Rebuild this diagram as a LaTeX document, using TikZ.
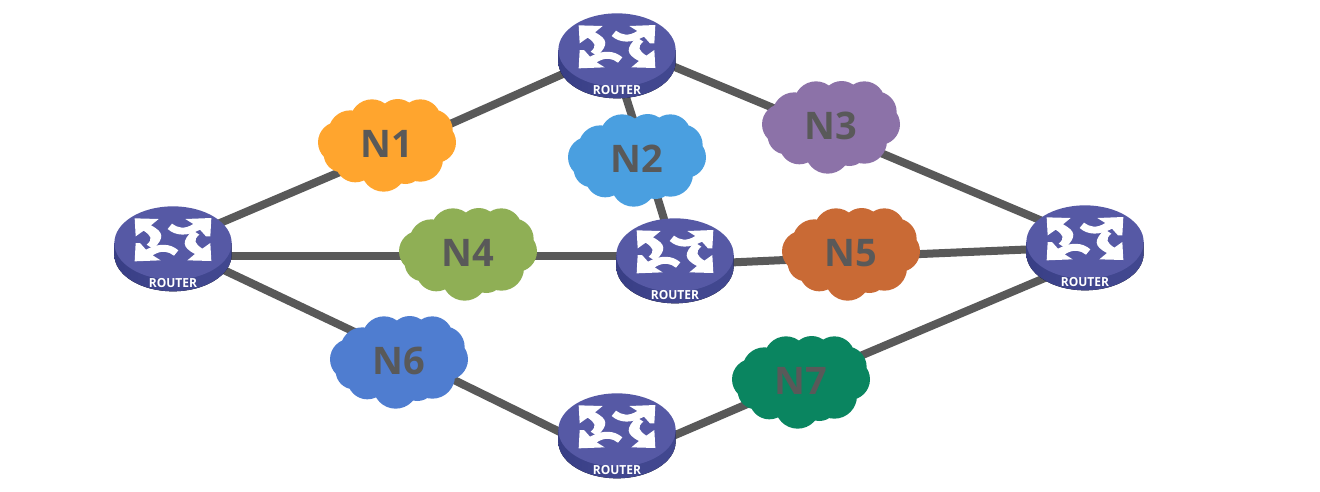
\documentclass[tikz,border=0pt]{standalone}
\usepackage{fontspec}
\setmainfont{Open Sans}
\usetikzlibrary{shapes.geometric,backgrounds}
\definecolor{linkgrey}{HTML}{595959}
\definecolor{routertop}{HTML}{5659A5}
\definecolor{routerside}{HTML}{41478F}
\definecolor{routersidedark}{HTML}{383E85}
\definecolor{cOne}{HTML}{FFA52E}
\definecolor{cTwo}{HTML}{4A9FE0}
\definecolor{cThree}{HTML}{8C72A8}
\definecolor{cFour}{HTML}{8FAF55}
\definecolor{cFive}{HTML}{C96A35}
\definecolor{cSix}{HTML}{4F7DD0}
\definecolor{cSeven}{HTML}{0A8560}
\tikzset{
  link/.style={draw=linkgrey,line width=8pt},
  routeranchor/.style={ellipse,inner sep=0pt,minimum width=117pt,minimum height=74pt},
  cloudlabel/.style={text=linkgrey,font=\fontsize{38}{38}\selectfont\bfseries,inner sep=0pt},
  routerlabel/.style={text=white,font=\fontsize{12.5}{13}\selectfont\bfseries,inner sep=0pt,xscale=.96}
}
% router: #1 name, #2 position
\newcommand{\routerat}[2]{%
  \node[routeranchor] (#1) at (#2) {};
  \begin{scope}[shift={(#1.center)},x=.3333pt,y=-.3333pt]
    \fill[left color=routersidedark,right color=routerside,middle color=routerside]
      (-176,0) -- (-176,35) arc[start angle=180,end angle=0,x radius=176,y radius=110] -- (176,0) -- cycle;
    \fill[routertop] (0,0) ellipse[x radius=176,y radius=110];
    \begin{scope}[shift={(-231,-150)}]
      \foreach \r in {0,180}{
      \begin{scope}[rotate around={\r:(231,140)}]
        \fill[white] (116,76) -- (188,78) -- (165,97) .. controls (205,118) and (205,135) .. (172,168)
           -- (152,155) .. controls (172,138) and (165,128) .. (143,113) -- (119,130) -- cycle;
        \fill[white] (346,75) -- (268,78) -- (292,93) .. controls (265,110) and (245,105) .. (228,92)
           -- (215,108) .. controls (240,130) and (275,130) .. (312,110) -- (330,130) -- (343,130) -- cycle;
      \end{scope}}
    \end{scope}
  \end{scope}
  \node[routerlabel] (#1t) at ([yshift=-40pt]#1.center) {ROUTER};
}
% cloud: #1 name, #2 position, #3 colour, #4 text
\newcommand{\cloudat}[4]{%
  \begin{scope}[shift={(#2)},x=.3333pt,y=-.3333pt]
    \begin{scope}[shift={(-230,-160)}]
    \fill[#3] (230,165) ellipse[x radius=175,y radius=112]
      (185,92) circle[radius=66] (262,85) circle[radius=60] (330,88) circle[radius=62]
      (365,118) circle[radius=62] (375,155) circle[radius=62] (330,205) circle[radius=68]
      (285,225) circle[radius=55] (220,235) circle[radius=68] (135,215) circle[radius=60]
      (95,190) circle[radius=55] (85,155) circle[radius=62] (120,125) circle[radius=66];
    \end{scope}
  \end{scope}
  \node[cloudlabel] (#1) at (#2) {#4};
}
\begin{document}
\begin{tikzpicture}[x=1pt,y=-1pt]
\path[use as bounding box] (0,0) rectangle (1320,491);
\routerat{ra}{173,243}
\routerat{rb}{617,50}
\routerat{rc}{675,255}
\routerat{rd}{1085,242}
\routerat{re}{617,430}
\cloudat{n1}{387,144}{cOne}{N1}
\cloudat{n2}{637,159}{cTwo}{N2}
\cloudat{n3}{831,126}{cThree}{N3}
\cloudat{n4}{468,253}{cFour}{N4}
\cloudat{n5}{851,253}{cFive}{N5}
\cloudat{n6}{399,361}{cSix}{N6}
\cloudat{n7}{801,381}{cSeven}{N7}
\begin{scope}[on background layer]
  \fill[white] (0,0) rectangle (1320,491);
  \draw[link] (ra.center) -- ([yshift=-8pt]n1.center) -- (rb.center);
  \draw[link] ([yshift=7pt]rb.center) -- ([yshift=-6pt]n3.center) -- ([yshift=3pt]rd.center);
  \draw[link] ([xshift=-6pt]rb.center) -- ([xshift=8.7pt]n2.center) -- (rc.center);
  \draw[link] ([yshift=-13pt]ra.center) -- ([yshift=-3pt]n4.center) -- ([yshift=-1pt]rc.center);
  \draw[link] ([yshift=-10pt]rc.center) -- ([yshift=-4pt]n5.center) -- ([yshift=-5pt]rd.center);
  \draw[link] ([yshift=-3pt]ra.center) -- ([yshift=8pt]n6.center) -- ([yshift=-30pt]re.center);
  \draw[link] ([yshift=-30pt]re.center) -- (n7.center) -- ([yshift=-19pt]rd.center);
\end{scope}
\end{tikzpicture}
\end{document}
